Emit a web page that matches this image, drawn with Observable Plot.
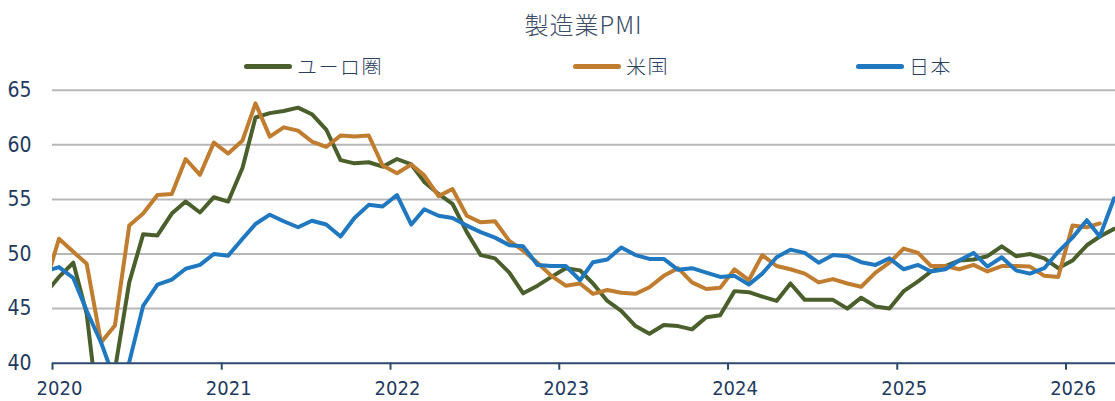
<!DOCTYPE html>
<html><head><meta charset="utf-8">
<script src="https://cdn.jsdelivr.net/npm/d3@7"></script>
<script src="https://cdn.jsdelivr.net/npm/@observablehq/plot@0.6"></script>
<style>
body{margin:0;background:#fff;width:1115px;height:401px;overflow:hidden;position:relative;font-family:"Noto Sans CJK JP","Noto Sans",sans-serif;}
#title{position:absolute;left:52px;width:1063px;top:7px;text-align:center;font-size:24px;line-height:34px;color:#3b4b66;font-weight:300;letter-spacing:1px;}
.leg{position:absolute;top:53px;height:26px;display:flex;align-items:center;font-size:20px;color:#2d3f5e;letter-spacing:1.5px;white-space:nowrap;font-weight:300;}
.sw{width:48px;height:5px;border-radius:3px;margin-right:5px;}
#chart{position:absolute;left:0;top:75px;}
</style></head><body>
<div id="title">製造業PMI</div>
<div id="legend"></div>
<div id="chart"></div>
<script>
// Monthly series, starting Dec 2019 (first point clipped by the axis start)
const startYear = 2019, startMonth = 11;
const euroPMI = [46.3,
 47.9,49.2,44.5,33.4,39.4,47.4,51.8,51.7,53.7,54.8,53.8,55.2,
 54.8,57.9,62.5,62.9,63.1,63.4,62.8,61.4,58.6,58.3,58.4,58.0,
 58.7,58.2,56.6,55.5,54.6,52.0,49.9,49.6,48.3,46.4,47.1,47.9,
 48.7,48.5,47.3,45.7,44.8,43.4,42.7,43.5,43.4,43.1,44.2,44.4,
 46.6,46.5,46.1,45.7,47.3,45.8,45.8,45.8,45.0,46.0,45.2,45.0,
 46.6,47.5,48.4,48.9,49.4,49.5,49.8,50.7,49.8,50.0,49.6,48.7,
 49.4,50.8,51.6,52.3];
const usPMI = [47.0,
 51.4,50.2,49.1,41.9,43.45,52.6,53.7,55.4,55.5,58.7,57.25,60.2,
 59.2,60.4,63.8,60.75,61.6,61.3,60.3,59.8,60.85,60.75,60.85,58.1,
 57.4,58.2,57.2,55.3,55.95,53.5,52.9,53.0,51.2,50.3,49.2,48.0,
 47.1,47.3,46.35,46.7,46.45,46.35,46.95,48.0,48.7,47.4,46.8,46.9,
 48.6,47.6,49.9,48.9,48.6,48.2,47.4,47.7,47.3,47.0,48.3,49.2,
 50.5,50.1,48.9,48.9,48.6,49.0,48.4,48.9,48.9,48.85,48.0,47.9,
 52.6,52.45,52.8];
const japanPMI = [48.4,
 48.8,47.8,44.8,41.9,38.4,40.1,45.25,47.2,47.65,48.65,49.0,50.0,
 49.85,51.4,52.75,53.6,53.0,52.45,53.05,52.7,51.6,53.3,54.5,54.35,
 55.4,52.7,54.1,53.5,53.3,52.6,52.0,51.5,50.8,50.7,49.0,48.9,
 48.9,47.6,49.25,49.5,50.6,49.9,49.55,49.55,48.55,48.7,48.3,47.9,
 48.0,47.2,48.2,49.7,50.4,50.1,49.2,49.9,49.8,49.25,49.0,49.6,
 48.6,49.0,48.4,48.6,49.4,50.1,48.85,49.7,48.5,48.2,48.7,50.2,
 51.5,53.1,51.6,55.1];
const seriesNames = ["ユーロ圏","米国","日本"];
const seriesColors = ["#4a5f2b","#c17d2f","#2078c0"];
const yTicks = [40,45,50,55,60,65];
const yearTicks = [2020,2021,2022,2023,2024,2025,2026];

const seriesValues = [euroPMI, usPMI, japanPMI];
const rows = seriesValues.flatMap((vals, k) => vals.map((v, i) => ({
  date: new Date(Date.UTC(startYear, startMonth + i, 15)),
  value: v,
  name: seriesNames[k]
})));
const yearDates = yearTicks.map(y => new Date(Date.UTC(y, 0, 1)));

// Legend
const legendLefts = [244, 573, 856];
const legend = document.getElementById("legend");
seriesNames.forEach((n, i) => {
  const d = document.createElement("div");
  d.className = "leg";
  d.style.left = legendLefts[i] + "px";
  d.innerHTML = `<span class="sw" style="background:${seriesColors[i]}"></span><span>${n}</span>`;
  legend.appendChild(d);
});

const navy = "#2c4a6e";
const tickFont = '"Liberation Sans Narrow","DejaVu Sans Condensed","Roboto",sans-serif';
const chart = Plot.plot({
  width: 1115, height: 326,
  marginLeft: 52, marginRight: 0, marginTop: 14.7, marginBottom: 38.3,
  style: {fontFamily: tickFont, fontSize: "21px", background: "white", color: "#1f3a60"},
  x: {type: "utc", domain: [new Date(Date.UTC(2020,0,1)), new Date(Date.UTC(2026,3,18))], label: null},
  y: {domain: [40, 65], label: null},
  color: {domain: seriesNames, range: seriesColors},
  marks: [
    Plot.gridY(yTicks.slice(1), {stroke: "#b7b7b7", strokeOpacity: 1, strokeWidth: 2}),
    Plot.axisY(yTicks, {tickSize: 0, tickPadding: 21, fill: "#1f3a60", fontSize: 21, label: null}),
    Plot.line(rows, {x: "date", y: "value", z: "name", stroke: "name", strokeWidth: 4, clip: true, strokeLinejoin: "round"}),
    Plot.ruleY([40], {stroke: navy, strokeWidth: 2}),
    Plot.axisX(yearDates, {tickSize: 7, tickFormat: () => "", stroke: navy, strokeWidth: 2, label: null}),
    Plot.axisX(yearDates, {tickSize: 0, tickPadding: 18, dx: 7, tickFormat: d3.utcFormat("%Y"), fill: "#1f3a60", fontSize: 20, label: null})
  ]
});
document.getElementById("chart").appendChild(chart);
</script>
</body></html>
